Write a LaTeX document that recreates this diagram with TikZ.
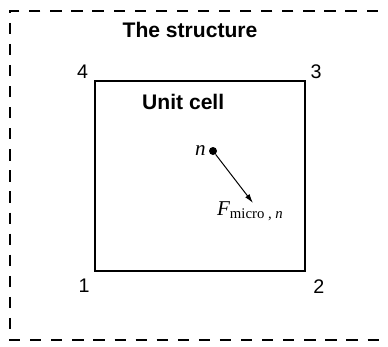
\documentclass[tikz,border=0pt]{standalone}
\usepackage{fontspec}
\setmainfont{Liberation Sans}
\newfontfamily\serifit{Liberation Serif}
\usetikzlibrary{arrows.meta}
\usetikzlibrary{positioning}
\tikzset{
cellbox/.style={
	rectangle,
	draw=black,
	line width=1.5pt,
	minimum width=5.25cm,
	minimum height=4.75cm,
	inner sep=0pt
},
title/.style={
	font=\fontsize{15}{18}\selectfont\bfseries,
	inner sep=1pt
},
cornerlbl/.style={
	font=\fontsize{14}{16}\selectfont,
	inner sep=0pt
},
arrow/.style={
	-{Latex[length=6.5pt,width=3.8pt]},
	line width=0.7pt,
	draw=black
}
}

\begin{document}
\begin{tikzpicture}[
  boundary/.style={line width=1.4pt, dash pattern=on 8pt off 7pt},
  dotnode/.style={circle, fill=black, minimum size=0.2cm, inner sep=0pt}
]
\clip (0,0) rectangle (9.7,8.65);

% the structure (runs off to the right)
\draw[boundary] (10.5,8.375) -- (0.25,8.375) -- (0.25,0.15) -- (10.5,0.15);
\node (Structure) [title] at (4.75,7.9) {The structure};

% unit cell
\node (Cell) [cellbox] at (5.0,4.25) {};
\node (CellName) [title] at (4.58,6.1) {Unit cell};

% corner numbers
\node (C4) [cornerlbl, above left=1pt and 4pt of Cell.north west] {4};
\node (C3) [cornerlbl, above right=1pt and 3pt of Cell.north east] {3};
\node (C1) [cornerlbl, below left=5pt and 3pt of Cell.south west] {1};
\node (C2) [cornerlbl, below right=5pt and 5pt of Cell.south east] {2};

% node n and its force
\node (Dot) [dotnode] at (5.325,4.875) {};
\node (N) [left=2pt of Dot, font=\fontsize{15}{18}\selectfont\serifit\itshape, inner sep=0pt] {n};
\coordinate (Tip) at (6.325,3.575);
\draw[arrow] (Dot) -- (Tip);
\node (Force) [anchor=north west, inner sep=0pt, font=\serifit] at (5.42,3.62)
  {{\fontsize{15}{18}\selectfont\itshape F}\raisebox{-0.45ex}{\fontsize{10.5}{12}\selectfont micro , \textit{n}}};

\end{tikzpicture}
\end{document}
